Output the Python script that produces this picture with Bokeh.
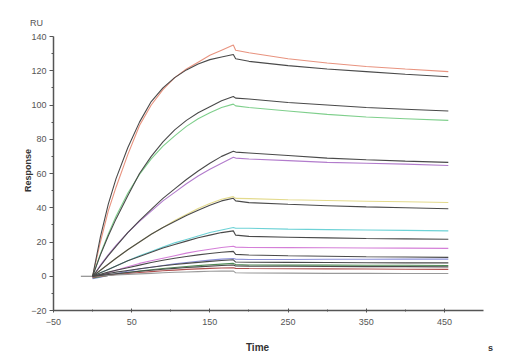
from bokeh.plotting import figure
from bokeh.models import FixedTicker, Label, Range1d
from bokeh.embed import file_html
from bokeh.resources import INLINE
import math

# Time points (s): association 0-180, dissociation 180-455
time_s = [0, 10, 20, 30, 45, 60, 75, 90, 105, 120, 135, 150, 165, 180,
          183, 200, 250, 300, 350, 400, 455]

# Measured responses (RU), coloured traces
resp_salmon = [0, 20, 38, 52, 71, 88, 100, 109, 116, 121, 125, 129, 132, 135,
               132, 130.5, 127, 124.5, 122.5, 121, 119.5]
resp_green = [0, 13, 24.5, 35, 48.5, 59.5, 68.5, 76, 82, 87.5, 92, 95.5, 98.5, 100.5,
              99.5, 98.5, 96.5, 94.5, 93, 92, 91]
resp_purple = [-1, 6.5, 12.5, 18, 25.5, 32, 38, 44, 49, 54, 58.5, 62.5, 66, 69.5,
               69, 68.5, 67.5, 66.5, 66, 65.5, 64.7]
resp_yellow = [0, 3.5, 7, 10.5, 15.5, 20, 24.5, 28.5, 32.5, 36, 39.5, 42.5, 45, 46.5,
               45.5, 45.3, 44.7, 44.2, 43.8, 43.5, 43.1]
resp_cyan = [0, 2, 4, 6, 9, 12, 14.5, 17, 19.5, 21.5, 23.5, 25.5, 27, 28.5,
             28, 28, 27.5, 27.2, 27, 26.8, 26.5]
resp_magenta = [-1, 0.5, 2, 3.5, 5.5, 7.5, 9, 10.5, 12, 13.5, 14.7, 15.8, 16.8, 17.5,
                17, 16.8, 16.7, 16.6, 16.5, 16.4, 16.3]
resp_blue = [-1.5, -0.5, 0.5, 1.5, 3, 4.2, 5.3, 6.3, 7.2, 8, 8.8, 9.4, 10, 10.4,
             10, 9.8, 9.8, 9.9, 9.9, 10, 10]
resp_dkgreen = [-1, -0.3, 0.5, 1.2, 2.2, 3, 3.8, 4.5, 5.1, 5.7, 6.2, 6.7, 7.1, 7.5,
                6.8, 6.6, 6.5, 6.5, 6.4, 6.4, 6.3]
resp_brown = [-0.5, 0, 0.5, 1, 1.6, 2.2, 2.7, 3.2, 3.6, 4, 4.3, 4.6, 4.8, 5,
              4.6, 4.5, 4.4, 4.3, 4.2, 4.1, 4]
resp_gray = [0, 0.2, 0.5, 0.8, 1.1, 1.4, 1.7, 2, 2.3, 2.5, 2.7, 2.9, 3, 3.1,
             2, 1.9, 1.8, 1.7, 1.7, 1.6, 1.6]

# Fitted curves (RU), black
fit_1 = [0, 23, 42, 57, 75, 90, 102, 110, 116, 120.5, 124, 126.5, 128, 129.5,
         127, 125.5, 123, 121, 119.5, 118, 116.5]
fit_2 = [0, 12.5, 23.5, 33.5, 47, 60, 70, 78.5, 85.5, 91, 95.5, 99, 102.5, 105,
         104, 103.5, 101.5, 100, 98.5, 97.5, 96.5]
fit_3 = [0, 6, 12, 17.5, 25.5, 32.5, 39, 45.5, 51, 56.5, 61.5, 66, 70, 73,
         72.5, 72, 70.5, 69, 68, 67.2, 66.5]
fit_4 = [0, 3.5, 7, 10.5, 15.5, 20, 24.5, 28.5, 32, 35.5, 38.5, 41.5, 44, 45.5,
         44, 43, 42, 41.2, 40.5, 40, 39.4]
fit_5 = [0, 2, 4, 6, 9, 11.5, 14, 16.5, 18.5, 20.5, 22.5, 24, 25.5, 26.5,
         24, 23.3, 22.8, 22.4, 22, 21.8, 21.6]
fit_6 = [0, 1.2, 2.4, 3.5, 5, 6.5, 8, 9.3, 10.5, 11.5, 12.5, 13.3, 14, 14.5,
         12.8, 12.4, 12, 11.7, 11.4, 11.2, 11]
fit_7 = [0, 0.8, 1.6, 2.4, 3.4, 4.4, 5.3, 6.1, 6.9, 7.5, 8.1, 8.7, 9.2, 9.6,
         8.3, 8.2, 8.1, 8, 7.9, 7.8, 7.8]
fit_8 = [0, 0.5, 1, 1.5, 2.2, 2.9, 3.5, 4.1, 4.6, 5.1, 5.5, 5.9, 6.3, 6.6,
         6, 5.9, 5.8, 5.7, 5.6, 5.6, 5.5]

baseline_t = [-15, 0]
baseline_v = [0, 0]

x_ticks = [-50, 50, 150, 250, 350, 450]
x_minor = [0, 100, 200, 300, 400]
y_ticks = [-20, 0, 20, 40, 60, 80, 100, 120, 140]
y_minor = [-10, 10, 30, 50, 70, 90, 110, 130]

W, H = 510, 360
# plot area in pixels: left 53, right 483, top 36, bottom 310
x_lo, x_hi, y_lo, y_hi = -50, 500, -20, 140
sx = (483 - 53) / (x_hi - x_lo)
sy = (310 - 36) / (y_hi - y_lo)
xr = Range1d(x_lo - 53 / sx, x_hi + (W - 483) / sx)
yr = Range1d(y_lo - (H - 310) / sy, y_hi + 36 / sy)

p = figure(width=W, height=H, output_backend="svg", toolbar_location=None,
           x_range=xr, y_range=yr, min_border=0,
           min_border_left=0, min_border_right=0, min_border_top=0,
           min_border_bottom=0)
p.outline_line_color = None
p.xgrid.grid_line_color = None
p.ygrid.grid_line_color = None
p.background_fill_color = "white"
p.border_fill_color = "white"

traces = [
    (resp_salmon, "#e8937f"), (resp_green, "#7fcf8c"), (resp_purple, "#b27ccc"),
    (resp_yellow, "#e3da8c"), (resp_cyan, "#6dd2d6"), (resp_magenta, "#d47fd8"),
    (resp_blue, "#8b8fd8"), (resp_dkgreen, "#4f8a55"), (resp_brown, "#b05050"),
    (resp_gray, "#9a9a9a"),
]
fits = [fit_1, fit_2, fit_3, fit_4, fit_5, fit_6, fit_7, fit_8]

p.line(baseline_t, baseline_v, line_color="#777777", line_width=1.2)
for vals, col in traces:
    p.line(time_s, vals, line_color=col, line_width=1.1)
for vals in fits:
    p.line(time_s, vals, line_color="#4a4a4a", line_width=1.1)

p.xaxis.fixed_location = y_lo
p.yaxis.fixed_location = x_lo
p.xaxis.bounds = (x_lo, x_hi)
p.yaxis.bounds = (y_lo, y_hi)

for ax in (p.xaxis[0], p.yaxis[0]):
    ax.axis_line_color = "#555555"
    ax.axis_line_width = 1.5
    ax.major_tick_line_color = "#555555"
    ax.minor_tick_line_color = "#555555"
    ax.major_label_text_font = "Liberation Sans"
    ax.major_label_text_font_size = "9px"
    ax.major_label_text_color = "#555555"

p.xaxis.ticker = FixedTicker(ticks=x_ticks, minor_ticks=x_minor)
p.yaxis.ticker = FixedTicker(ticks=y_ticks, minor_ticks=y_minor)
p.xaxis.major_tick_out = 2
p.xaxis.major_tick_in = 2
p.xaxis.minor_tick_out = 1
p.xaxis.minor_tick_in = 1
p.yaxis.major_tick_out = 4
p.yaxis.major_tick_in = 0
p.yaxis.minor_tick_out = 2
p.yaxis.minor_tick_in = 0
p.xaxis.major_label_standoff = 6
p.yaxis.major_label_standoff = 3

# Labels (screen units: frame now covers the whole canvas, origin bottom-left)
p.add_layout(Label(x=36, y=H - 22, x_units="screen", y_units="screen", text="RU",
                   text_font="Liberation Sans", text_font_size="9px",
                   text_color="#555555", text_align="center", text_baseline="middle"))
p.add_layout(Label(x=27, y=H - 170, x_units="screen", y_units="screen", text="Response",
                   text_font="Liberation Sans", text_font_size="9px", text_font_style="bold",
                   text_color="#333333", text_align="center", text_baseline="middle",
                   angle=math.pi / 2))
p.add_layout(Label(x=257, y=H - 347, x_units="screen", y_units="screen", text="Time",
                   text_font="Liberation Sans", text_font_size="10px", text_font_style="bold",
                   text_color="#333333", text_align="center", text_baseline="middle"))
p.add_layout(Label(x=490, y=H - 347, x_units="screen", y_units="screen", text="s",
                   text_font="Liberation Sans", text_font_size="9px", text_font_style="bold",
                   text_color="#333333", text_align="center", text_baseline="middle"))

open("out.html", "w").write(file_html(p, INLINE))
